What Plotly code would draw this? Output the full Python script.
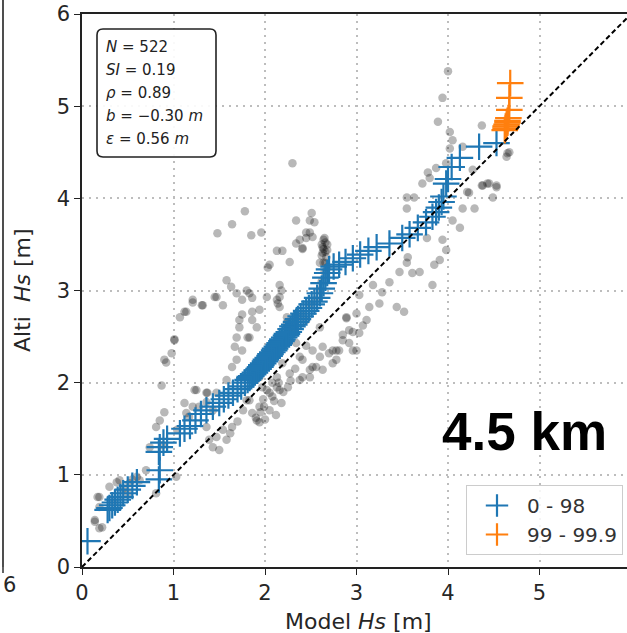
import plotly.graph_objects as go

# Quantile-quantile pairs (model Hs, altimeter Hs), percentiles 0-98
qq_model = [0.06, 0.28, 0.30, 0.33, 0.36, 0.39, 0.42, 0.45, 0.50, 0.55, 0.60, 0.84, 0.85, 0.84, 0.85, 0.89, 0.93,
            1.07, 1.12, 1.18, 1.24, 1.30, 1.36, 1.43, 1.50, 1.55, 1.60, 1.65, 1.70, 1.74, 1.78,
            1.81, 1.83, 1.85, 1.87, 1.89, 1.91, 1.93, 1.95, 1.96, 1.98, 2.00, 2.01, 2.03, 2.05, 2.06, 2.08,
            2.10, 2.11, 2.13, 2.15, 2.16, 2.18, 2.19, 2.21, 2.23, 2.24, 2.26, 2.28, 2.30, 2.32, 2.34, 2.36,
            2.39, 2.42, 2.45, 2.48, 2.51, 2.54, 2.57, 2.60, 2.62, 2.64, 2.66, 2.68, 2.70,
            2.75, 2.81, 2.88, 2.96, 3.04, 3.13, 3.22, 3.36, 3.50, 3.58, 3.67, 3.76, 3.83, 3.87, 3.90, 3.93,
            3.95, 3.98, 4.00, 4.04, 4.13, 4.34, 4.53]
qq_alti = [0.28, 0.62, 0.64, 0.67, 0.70, 0.73, 0.76, 0.80, 0.84, 0.88, 0.92, 0.95, 1.05, 1.25, 1.30, 1.35, 1.39,
           1.45, 1.50, 1.53, 1.59, 1.66, 1.70, 1.74, 1.78, 1.82, 1.86, 1.89, 1.93, 1.96, 2.00,
           2.03, 2.05, 2.07, 2.09, 2.11, 2.13, 2.15, 2.17, 2.19, 2.21, 2.23, 2.25, 2.27, 2.29, 2.31, 2.33,
           2.35, 2.37, 2.39, 2.41, 2.43, 2.45, 2.47, 2.49, 2.51, 2.53, 2.55, 2.58, 2.61, 2.63, 2.66, 2.69,
           2.72, 2.75, 2.78, 2.81, 2.85, 2.88, 2.92, 2.97, 3.02, 3.08, 3.14, 3.19, 3.23,
           3.26, 3.28, 3.31, 3.35, 3.39, 3.43, 3.47, 3.51, 3.57, 3.61, 3.68, 3.74, 3.80, 3.85, 3.90, 3.96,
           4.02, 4.16, 4.21, 4.34, 4.44, 4.56, 4.60]

# Upper tail, percentiles 99-99.9
tail_model = [4.62, 4.63, 4.63, 4.64, 4.65, 4.65, 4.66, 4.67, 4.67, 4.68]
tail_alti = [4.74, 4.76, 4.78, 4.80, 4.82, 4.84, 4.87, 4.96, 5.09, 5.25]

# Collocated model / altimeter Hs pairs
obs_points = [
    (2.30, 4.38), (1.78, 3.86), (1.64, 3.72), (1.48, 3.62), (1.85, 3.60), (1.96, 3.63), (2.34, 3.76), (2.51, 3.84),
    (2.54, 3.74), (2.49, 3.63), (2.45, 3.57), (2.38, 3.55), (2.34, 3.51), (2.65, 3.57), (2.63, 3.47), (2.63, 3.41),
    (2.67, 3.36), (2.13, 3.43), (2.19, 3.43), (2.41, 3.45), (2.27, 3.31), (2.03, 3.25), (2.60, 3.30), (1.58, 3.11),
    (1.63, 3.04), (1.69, 2.97), (1.80, 3.00), (1.83, 2.97), (1.75, 2.90), (1.86, 2.92), (2.16, 3.06), (2.18, 3.00),
    (2.16, 2.93), (2.14, 2.86), (1.47, 2.93), (1.21, 2.87), (1.32, 2.84), (1.54, 2.84), (1.07, 2.71), (1.14, 2.77),
    (1.75, 2.74), (1.86, 2.77), (1.94, 2.79), (1.86, 2.68), (1.72, 2.60), (1.69, 2.49), (1.81, 2.49), (1.67, 2.39),
    (1.01, 2.47), (0.92, 2.22), (0.98, 2.32), (0.87, 1.97), (1.64, 2.17), (1.58, 2.03), (1.25, 1.92), (1.37, 1.89),
    (2.02, 2.17), (2.08, 2.00), (2.02, 1.92), (2.16, 1.92), (1.94, 2.06),
    (2.34, 2.43), (2.38, 2.28), (2.52, 2.35), (2.60, 2.28), (2.56, 2.17), (2.49, 2.06), (2.38, 2.03), (2.74, 2.35),
    (2.85, 2.46), (2.89, 2.70), (2.96, 2.55), (2.74, 2.21), (3.00, 2.35), (2.24, 2.71), (2.30, 2.57), (2.24, 2.65),
    (2.49, 3.76), (2.45, 3.63), (2.52, 3.58), (2.41, 3.46), (2.66, 3.52), (2.64, 3.30), (2.68, 3.44),
    (3.72, 4.16), (3.78, 4.28), (3.98, 4.38), (4.27, 4.31), (4.37, 4.14), (4.43, 4.16), (4.53, 4.14), (4.49, 4.01),
    (4.65, 4.49), (4.23, 4.06), (4.16, 3.89), (4.29, 3.89), (4.05, 3.76), (4.13, 3.68), (3.94, 3.55), (3.98, 3.44),
    (3.91, 3.33), (3.85, 3.28), (3.77, 3.57), (3.63, 4.01), (3.55, 3.89), (3.56, 3.36), (3.55, 3.30), (3.47, 3.20),
    (3.61, 3.19), (3.69, 3.20), (3.83, 3.06), (3.36, 3.09), (3.18, 3.06), (3.28, 2.98), (3.03, 2.95), (3.25, 2.86),
    (3.14, 2.82), (3.00, 2.75), (3.11, 2.68), (2.89, 2.71), (3.44, 2.82), (3.52, 2.77), (3.07, 2.62), (2.92, 2.57),
    (2.85, 2.52), (3.03, 2.54), (2.92, 2.43), (2.78, 2.35), (2.63, 2.39), (2.70, 2.32), (2.78, 2.25), (2.96, 2.35),
    (2.52, 2.17), (2.63, 2.14), (2.41, 2.06),
    (1.23, 1.92), (1.36, 1.89), (1.12, 1.78), (0.90, 1.68), (0.85, 1.59), (0.81, 1.52), (0.74, 1.30), (0.88, 1.32),
    (1.04, 1.49), (1.17, 1.63), (1.28, 1.74), (1.43, 1.70), (1.47, 1.41), (1.43, 1.30), (1.50, 1.27), (1.58, 1.38),
    (1.54, 1.49), (1.39, 1.38), (1.36, 1.52), (1.64, 1.52), (1.80, 1.81), (1.86, 1.67), (1.94, 1.57), (1.99, 1.74),
    (2.05, 1.89), (2.13, 1.95), (1.97, 1.95), (1.03, 0.98), (0.81, 0.80), (0.70, 1.05), (0.63, 0.94), (0.41, 0.94),
    (0.30, 0.87), (0.19, 0.76), (0.14, 0.49), (0.22, 0.43), (0.52, 0.91), (0.19, 0.65),
    (4.00, 5.38), (3.94, 5.09), (3.89, 4.83), (4.37, 4.79), (4.02, 4.72), (4.05, 4.63), (4.02, 4.54), (4.16, 4.56),
    (4.67, 4.50), (4.64, 4.45), (3.87, 4.33), (3.80, 4.22), (4.38, 4.14), (4.45, 4.16), (4.53, 4.12), (4.21, 4.07),
    (3.55, 4.01),
    (1.45, 2.93), (1.21, 2.90), (1.31, 2.84), (1.12, 2.77), (1.01, 2.46), (0.90, 2.25), (2.02, 2.93), (2.05, 3.28),
    (2.13, 2.90), (2.16, 2.82), (1.72, 2.68), (1.91, 2.60), (1.83, 2.49), (1.75, 2.35), (1.69, 2.25), (1.91, 2.17),
    (1.47, 1.89), (1.36, 1.79), (1.21, 1.74), (1.14, 1.67), (1.83, 1.81), (1.94, 1.74), (1.91, 1.59), (2.13, 2.06),
    (2.27, 2.10), (2.41, 2.25), (2.49, 2.14), (2.81, 2.35), (2.60, 2.60), (2.45, 2.68), (2.30, 2.60), (2.16, 2.46),
    (2.08, 2.28), (2.19, 2.21),
    (1.85, 2.05), (1.95, 2.15), (2.00, 2.25), (2.05, 2.30), (2.10, 2.40), (2.20, 2.50), (2.25, 2.55), (2.30, 2.65),
    (2.35, 2.70), (2.40, 2.75), (2.50, 2.85), (2.55, 2.90), (2.60, 3.00), (2.62, 3.10), (2.65, 3.20), (2.68, 3.25),
    (2.66, 3.30), (2.64, 3.45), (2.62, 3.50),
    (0.17, 0.76), (0.14, 0.51), (0.19, 0.42), (0.38, 0.92), (0.45, 0.85), (0.55, 0.95), (0.35, 0.70), (0.50, 0.80),
    (0.60, 0.98),
    (1.90, 1.62), (1.95, 1.68), (2.00, 1.60), (2.05, 1.70), (2.10, 1.80), (2.12, 1.65), (2.18, 1.78), (2.20, 1.90),
    (2.25, 1.95), (2.08, 1.85), (1.98, 1.82), (2.15, 2.00), (2.62, 3.38), (2.66, 3.42), (2.64, 3.55), (2.68, 3.50),
    (1.62, 1.45), (1.70, 1.58), (1.76, 1.70), (2.28, 2.02), (2.33, 2.15), (2.45, 2.40),
]
obs_model = [p[0] for p in obs_points]
obs_alti = [p[1] for p in obs_points]

stats_lines = ["<i>N</i> = 522", "<i>SI</i> = 0.19", "<i>ρ</i> = 0.89", "<i>b</i> = −0.30 <i>m</i>",
               "<i>ε</i> = 0.56 <i>m</i>"]
x_ticks = [0, 1, 2, 3, 4, 5, 6]
y_ticks = [0, 1, 2, 3, 4, 5, 6]

# Page geometry (pixels)
W, H = 627, 633
ML, MR, MT, MB = 82, 0, 14, 66
PW, PH = W - ML - MR, H - MT - MB
X_PER_UNIT = 91.5


def px(xp):
    return (xp - ML) / PW


def py(yp):
    return (H - MB - yp) / PH


FONT = "DejaVu Sans"
fig = go.Figure()

fig.add_trace(go.Scatter(x=obs_model, y=obs_alti, mode="markers", showlegend=False, hoverinfo="skip",
                         marker=dict(size=8.5, color="rgba(0,0,0,0.28)", line=dict(width=0))))
fig.add_trace(go.Scatter(x=qq_model, y=qq_alti, mode="markers", name="0 - 98",
                         marker=dict(symbol="cross-thin", size=19, line=dict(width=2.2, color="#1f77b4"),
                                     color="#1f77b4")))
fig.add_trace(go.Scatter(x=tail_model, y=tail_alti, mode="markers", name="99 - 99.9",
                         marker=dict(symbol="cross-thin", size=19, line=dict(width=2.2, color="#ff7f0e"),
                                     color="#ff7f0e")))
fig.add_trace(go.Scatter(x=[0, 6], y=[0, 6], mode="lines", showlegend=False, hoverinfo="skip",
                         line=dict(color="black", width=2, dash="5px,3px")))

axis_common = dict(showgrid=True, gridcolor="#bdbdbd", griddash="1.5px,5.5px", gridwidth=1.5,
                   showline=True, linecolor="#222", linewidth=1.6, ticks="outside", ticklen=6,
                   tickwidth=1.4, tickcolor="#222", zeroline=False,
                   tickfont=dict(family=FONT, size=21, color="#262626"))

fig.update_layout(
    width=W, height=H, margin=dict(l=ML, r=MR, t=MT, b=MB, pad=0),
    paper_bgcolor="white", plot_bgcolor="white",
    xaxis=dict(range=[0, PW / X_PER_UNIT], tickvals=x_ticks, mirror=True, **axis_common),
    yaxis=dict(range=[0, 6], tickvals=y_ticks, **axis_common),
    legend=dict(x=px(623), y=py(555), xanchor="right", yanchor="bottom",
                bgcolor="rgba(255,255,255,0.85)", bordercolor="#cccccc", borderwidth=1,
                font=dict(family=FONT, size=20, color="#333333"), itemsizing="trace", itemwidth=50),
)

annotations = []
# statistics box text
for i, line in enumerate(stats_lines):
    annotations.append(dict(x=px(104), y=py(47 + i * 23), xref="paper", yref="paper", text=line,
                            showarrow=False, xanchor="left", yanchor="middle",
                            font=dict(family=FONT, size=15, color="#222")))
# axis titles
annotations.append(dict(x=px(358), y=py(621), xref="paper", yref="paper", text="Model <i>Hs</i> [m]",
                        showarrow=False, xanchor="center", yanchor="middle",
                        font=dict(family=FONT, size=22, color="#262626")))
annotations.append(dict(x=px(22), y=py(290), xref="paper", yref="paper", text="Alti  <i>Hs</i> [m]",
                        showarrow=False, xanchor="center", yanchor="middle", textangle=-90,
                        font=dict(family=FONT, size=22, color="#262626")))
# resolution label
annotations.append(dict(x=px(524), y=py(431), xref="paper", yref="paper", text="<b>4.5 km</b>",
                        showarrow=False, xanchor="center", yanchor="middle",
                        font=dict(family="Liberation Sans, Arial", size=53, color="black")))
# neighbouring panel's corner tick label
annotations.append(dict(x=px(1), y=py(585), xref="paper", yref="paper", text="6",
                        showarrow=False, xanchor="left", yanchor="middle",
                        font=dict(family=FONT, size=21, color="#262626")))
fig.update_layout(annotations=annotations)


def rounded_box(x0, y0, x1, y1, r):
    # path in paper units from pixel corners, with rounded corners of radius r px
    pts = [
        f"M {px(x0 + r)},{py(y0)}", f"L {px(x1 - r)},{py(y0)}", f"Q {px(x1)},{py(y0)} {px(x1)},{py(y0 + r)}",
        f"L {px(x1)},{py(y1 - r)}", f"Q {px(x1)},{py(y1)} {px(x1 - r)},{py(y1)}",
        f"L {px(x0 + r)},{py(y1)}", f"Q {px(x0)},{py(y1)} {px(x0)},{py(y1 - r)}",
        f"L {px(x0)},{py(y0 + r)}", f"Q {px(x0)},{py(y0)} {px(x0 + r)},{py(y0)}", "Z",
    ]
    return " ".join(pts)


shapes = [
    dict(type="path", xref="paper", yref="paper", path=rounded_box(97, 29, 216, 157, 6),
         line=dict(color="#222", width=1.6), fillcolor="rgba(255,255,255,0.9)", layer="above"),
    # right spine and corner tick of the neighbouring panel
    dict(type="line", xref="paper", yref="paper", x0=px(3), x1=px(3), y0=py(567), y1=py(0),
         line=dict(color="#222", width=1.6)),
    dict(type="line", xref="paper", yref="paper", x0=px(3), x1=px(3), y0=py(567), y1=py(573),
         line=dict(color="#222", width=1.4)),
]
fig.update_layout(shapes=shapes)

fig.write_html("out.html")
